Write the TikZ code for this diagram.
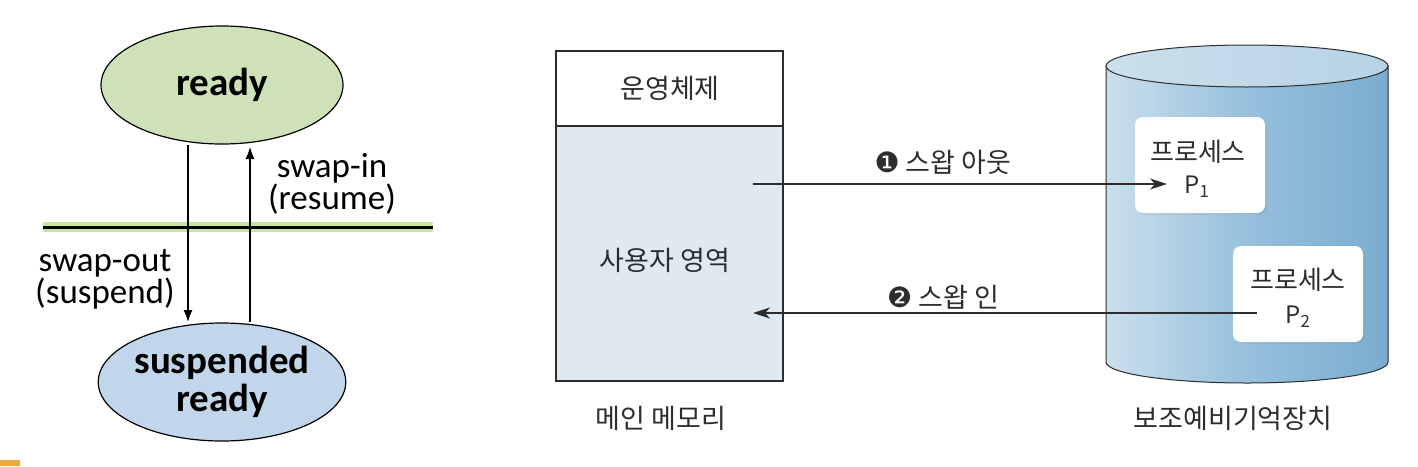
\documentclass[tikz,border=0pt]{standalone}
\usepackage{fontspec}
\setmainfont{Carlito}
\newfontfamily\kr{Noto Sans CJK KR}
\newfontfamily\djv{DejaVu Sans}
\usetikzlibrary{arrows.meta,shapes.geometric,shadows}
\definecolor{readyg}{RGB}{206,225,185}
\definecolor{suspb}{RGB}{194,214,235}
\definecolor{userarea}{RGB}{222,233,242}
\definecolor{txt}{RGB}{45,45,45}
\definecolor{cylL}{RGB}{202,223,236}
\definecolor{cylM}{RGB}{150,192,220}
\definecolor{cylR}{RGB}{122,172,207}
\definecolor{cylTop}{RGB}{190,215,232}
\definecolor{glow}{RGB}{160,210,110}
\definecolor{orng}{RGB}{232,170,60}
\begin{document}
\begin{tikzpicture}[x=1pt,y=-1pt,
  state/.style={ellipse,draw=black,line width=1.2pt,minimum width=242pt,minimum height=118pt,inner sep=0pt,align=center,font=\fontsize{39}{38}\selectfont\bfseries},
  lab/.style={font=\fontsize{35}{32}\selectfont,align=center,inner sep=0pt},
  krt/.style={font=\kr\fontsize{27}{30}\selectfont,text=txt,inner sep=0pt,align=center},
  memsec/.style={draw=txt,line width=1.1pt,minimum width=227pt,inner sep=0pt},
  pbox/.style={fill=white,rounded corners=8pt,minimum width=130pt,minimum height=96pt,inner sep=0pt,drop shadow={opacity=0.2,shadow xshift=1.5pt,shadow yshift=-1.5pt}},
  lconn/.style={line width=1.1pt,-{Latex[length=12pt,width=9pt]}},
  rconn/.style={draw=txt,line width=1.1pt,-{Stealth[length=17pt,width=11pt,inset=5pt]}}]
\useasboundingbox (0,0) rectangle (1418,466);
% ---------- left part ----------
\node[state,fill=readyg] (ready) at (222,85) {ready};
\node[state,fill=suspb] (susp) at (222,382) {suspended\\ready};
\draw[glow,line width=10pt,opacity=0.6] (43,227) -- (433,227);
\draw[black,line width=3pt] (43,227) -- (433,227);
\coordinate (d1) at (188,145);
\coordinate (d2) at (188,322);
\coordinate (u1) at (250,322);
\coordinate (u2) at (250,147);
\draw[lconn] (d1) -- (d2);
\draw[lconn] (u1) -- (u2);
\node[lab] (swin) at (332,184) {swap-in\\(resume)};
\node[lab] (swout) at (105,279) {swap-out\\(suspend)};
\fill[orng] (0,460) rectangle (20,466);
% ---------- main memory ----------
\node[memsec,fill=white,minimum height=75pt] (os) at (669.5,88.5) {};
\node[memsec,fill=userarea,minimum height=255pt] (user) at (669.5,253.5) {};
\node[krt] (ost) at (670,88) {운영체제};
\node[krt] (usert) at (665,260) {사용자 영역};
\node[krt] (memt) at (661,418) {메인 메모리};
% ---------- cylinder ----------
\path[draw=txt,line width=1pt,left color=cylL,right color=cylR,middle color=cylM]
  (1106,66) -- (1106,362) arc[start angle=180,end angle=0,x radius=141,y radius=21] -- (1388,66) -- cycle;
\path[draw=txt,line width=1pt,left color=cylTop!80!white,right color=cylTop!90!cylR] (1247,66) ellipse[x radius=141,y radius=21];
\node[krt] (cylt) at (1233,418) {보조예비기억장치};
\node[pbox] (p1) at (1200,165) {};
\node[pbox] (p2) at (1298,294) {};
\node[krt,font=\kr\fontsize{26}{28}\selectfont] (p1a) at (1198,152) {프로세스};
\node[krt,font=\kr\fontsize{24}{26}\selectfont] (p1b) at (1197,187) {P\textsubscript{1}};
\node[krt,font=\kr\fontsize{26}{28}\selectfont] (p2a) at (1298,280) {프로세스};
\node[krt,font=\kr\fontsize{24}{26}\selectfont] (p2b) at (1298,317) {P\textsubscript{2}};
% ---------- arrows ----------
\coordinate (o1) at (753,184);
\coordinate (o2) at (1167,184);
\coordinate (i1) at (1257,313);
\coordinate (i2) at (753,313);
\draw[rconn] (o1) -- (o2);
\draw[rconn] (i1) -- (i2);
\node[krt] (outl) at (943,162) {{\djv\fontsize{28}{30}\selectfont ❶} 스왑 아웃};
\node[krt] (inl) at (943,297) {{\djv\fontsize{28}{30}\selectfont ❷} 스왑 인};
\end{tikzpicture}
\end{document}
